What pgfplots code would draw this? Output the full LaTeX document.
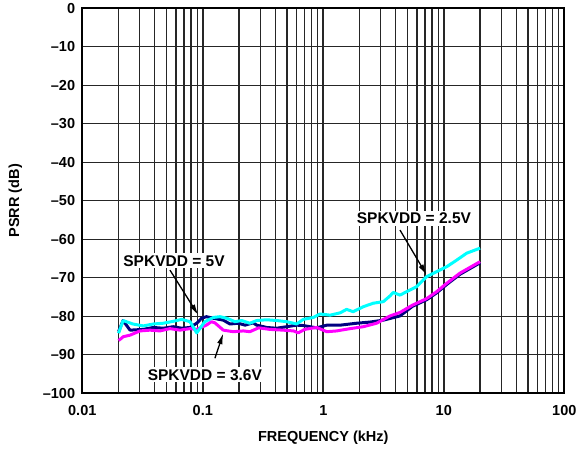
\documentclass[border=0pt]{standalone}
\usepackage{fontspec}
\setmainfont{Liberation Sans}
\usepackage{pgfplots}
\pgfplotsset{compat=1.18}
\usetikzlibrary{arrows.meta}
\definecolor{vcyan}{RGB}{0,255,255}
\definecolor{vmag}{RGB}{255,0,255}
\definecolor{vnavy}{RGB}{0,0,128}
\begin{document}
\begin{tikzpicture}
\begin{axis}[
  scale only axis,
  width=482bp, height=385bp,
  xmode=log, log basis x=10,
  xmin=0.01, xmax=100, ymin=-100, ymax=0,
  xtick={0.01,0.1,1,10,100},
  xticklabels={0.01,0.1,1,10,100},
  minor xtick={0.02,0.03,0.04,0.05,0.06,0.07,0.08,0.09,
    0.2,0.3,0.4,0.5,0.6,0.7,0.8,0.9,2,3,4,5,6,7,8,9,
    20,30,40,50,60,70,80,90},
  ytick={-100,-90,...,0},
  yticklabels={–100,–90,–80,–70,–60,–50,–40,–30,–20,–10,0},
  major tick length=0pt, minor tick length=0pt,
  xmajorgrids, xminorgrids, ymajorgrids,
  x grid style={black!85},
  y grid style={black!85, line width=1.3bp},
  major x grid style={line width=1.8bp},
  minor grid style={black!85, line width=1.3bp},
  axis line style={black, line width=1.8bp},
  tick label style={font=\fontsize{14.5bp}{17bp}\selectfont\bfseries},
  xticklabel style={inner sep=0pt, yshift=-12bp},
  yticklabel style={inner sep=0pt, xshift=-7bp},
  label style={font=\fontsize{14.5bp}{17bp}\selectfont\bfseries},
  xlabel={FREQUENCY (kHz)},
  ylabel={PSRR (dB)},
  xlabel style={at={([yshift=-44bp]axis description cs:0.5,0)}, anchor=center},
  ylabel style={at={([xshift=-67bp]axis description cs:0,0.5)}, anchor=center},
  every axis plot/.append style={line width=3bp, line join=round},
]
% SPKVDD = 5V
\addplot[vnavy] coordinates {
(0.02,-84.0) (0.0218,-81.1) (0.0249,-83.6) (0.0321,-83.4) (0.0388,-82.9)
(0.047,-83.1) (0.0569,-82.7) (0.0668,-83.1) (0.0783,-82.9) (0.089,-81.8)
(0.0978,-80.5) (0.107,-80.1) (0.122,-80.5) (0.148,-81.0) (0.168,-82.0)
(0.197,-81.8) (0.224,-82.3) (0.262,-81.7) (0.280,-82.3) (0.339,-82.9)
(0.41,-83.1) (0.497,-82.7) (0.601,-82.3) (0.682,-82.4) (0.88,-83.0)
(1.07,-82.3) (1.38,-82.3) (1.89,-81.8) (2.44,-81.5) (3.15,-81.0)
(4.33,-79.9) (5.5,-77.4) (7.21,-75.7) (8.73,-73.9) (10.6,-71.7)
(13.6,-69.1) (20,-66.1)
};
% SPKVDD = 3.6V
\addplot[vmag] coordinates {
(0.02,-86.3) (0.0219,-85.3) (0.0249,-84.9) (0.0301,-83.8) (0.0364,-83.6)
(0.0441,-83.8) (0.0534,-83.2) (0.0646,-83.6) (0.0783,-83.2) (0.089,-83.4)
(0.107,-82.3) (0.118,-81.4) (0.126,-81.7) (0.148,-83.6) (0.179,-84.0)
(0.217,-83.8) (0.246,-84.0) (0.29,-83.0) (0.36,-83.4) (0.465,-83.6)
(0.566,-83.8) (0.62,-84.3) (0.70,-83.4) (0.88,-82.9) (1.07,-84.0)
(1.29,-83.8) (1.67,-83.2) (2.15,-82.7) (2.77,-81.8) (3.58,-79.9)
(4.33,-79.0) (5.5,-77.1) (7.21,-75.4) (8.73,-73.6) (10.6,-71.4)
(13.6,-68.8) (20,-65.8)
};
% SPKVDD = 2.5V
\addplot[vcyan] coordinates {
(0.02,-84.4) (0.0218,-81.1) (0.0263,-82.0) (0.0321,-82.5) (0.0388,-82.0)
(0.047,-81.8) (0.0569,-81.3) (0.0668,-80.8) (0.0783,-81.4) (0.089,-84.3)
(0.104,-81.4) (0.122,-80.3) (0.139,-80.1) (0.158,-80.5) (0.185,-81.4)
(0.210,-81.1) (0.246,-81.8) (0.280,-81.1) (0.339,-80.9) (0.410,-81.1)
(0.497,-81.4) (0.601,-82.0) (0.682,-80.8) (0.826,-80.3) (0.939,-79.4)
(1.14,-79.7) (1.38,-79.1) (1.56,-78.2) (1.77,-78.8) (2.15,-77.5)
(2.60,-76.6) (3.15,-76.2) (3.58,-74.7) (3.81,-73.8) (4.33,-74.5)
(4.92,-73.6) (5.96,-72.3) (7.21,-69.7) (8.73,-68.4) (10.6,-67.1)
(12.8,-65.4) (15.5,-63.6) (20,-62.3)
};
\tikzset{lbl/.style={fill=white, inner sep=2bp, font=\fontsize{15.5bp}{18bp}\selectfont\bfseries},
  arr/.style={line width=1.3bp, -{Latex[length=11bp,width=5.5bp]}}}
\draw[arr] (axis cs:0.0534,-68) -- (axis cs:0.0918,-79.7);
\draw[arr] (axis cs:0.126,-90.9) -- (axis cs:0.148,-84.4);
\draw[arr] (axis cs:4.33,-57.6) -- (axis cs:7.21,-69.3);
\node[lbl] at (axis cs:0.0577,-65.6) {SPKVDD = 5V};
\node[lbl] at (axis cs:0.104,-95.2) {SPKVDD = 3.6V};
\node[lbl] at (axis cs:5.65,-54.5) {SPKVDD = 2.5V};
\end{axis}
\path (-82.3bp,-60.7bp) rectangle (500.7bp,393.3bp);
\end{tikzpicture}
\end{document}
